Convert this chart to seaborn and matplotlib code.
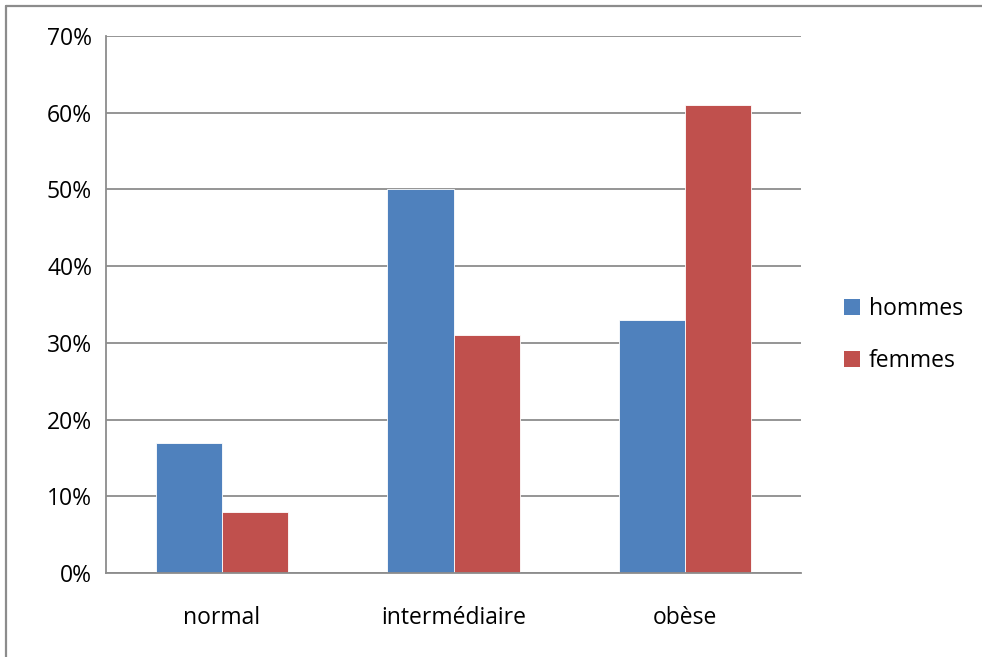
import matplotlib
matplotlib.use("Agg")
import matplotlib.pyplot as plt
from matplotlib.lines import Line2D
from matplotlib.patches import Patch
from matplotlib.ticker import PercentFormatter
import pandas as pd
import seaborn as sns

categories = ["normal", "intermédiaire", "obèse"]
series_names = ["hommes", "femmes"]
hommes = [0.17, 0.50, 0.33]
femmes = [0.08, 0.31, 0.61]
y_ticks = [0.0, 0.1, 0.2, 0.3, 0.4, 0.5, 0.6, 0.7]
colors = {"hommes": "#4F81BD", "femmes": "#C0504D"}

df = pd.DataFrame({
    "catégorie": categories * 2,
    "groupe": [series_names[0]] * 3 + [series_names[1]] * 3,
    "valeur": hommes + femmes,
})

sns.set_theme(style="white")
plt.rcParams["font.family"] = ["Open Sans", "DejaVu Sans"]
plt.rcParams["text.color"] = "black"

W, H = 982, 657
fig = plt.figure(figsize=(W / 100, H / 100), dpi=100)
fig.patch.set_facecolor("white")

x0, x1, y0, y1 = 106, 801, 36, 573
ax = fig.add_axes([x0 / W, 1 - y1 / H, (x1 - x0) / W, (y1 - y0) / H])

sns.barplot(data=df, x="catégorie", y="valeur", hue="groupe",
            order=categories, hue_order=series_names, palette=colors,
            width=0.572, ax=ax, legend=False, saturation=1,
            edgecolor="white", linewidth=0.6)

grid_col = "#8C8C8C"
fs = 16.5
ax.set_ylim(0, 0.7)
ax.set_xlim(-0.5, 2.5)
ax.set_yticks(y_ticks)
ax.yaxis.set_major_formatter(PercentFormatter(1.0, decimals=0))
ax.yaxis.grid(True, color=grid_col, linewidth=1.3)
ax.set_axisbelow(True)
ax.set_xlabel("")
ax.set_ylabel("")
for side in ("top", "right"):
    ax.spines[side].set_visible(False)
for side in ("left", "bottom"):
    ax.spines[side].set_color(grid_col)
    ax.spines[side].set_linewidth(1.3)
ax.tick_params(axis="y", length=0, pad=10, labelsize=fs, colors="black")
ax.tick_params(axis="x", length=0, pad=24, labelsize=fs, colors="black")

handles = [Patch(facecolor=colors[n], edgecolor="none", label=n) for n in series_names]
fig.legend(handles=handles, loc="center left",
           bbox_to_anchor=(823 / W, 1 - 335 / H), frameon=False,
           fontsize=fs, handlelength=0.7, handleheight=0.7,
           handletextpad=0.4, labelspacing=1.2, labelcolor="black")

# outer chart frame: left and top edges
fx = 5.5 / W
fy = 1 - 5.5 / H
fig.add_artist(Line2D([fx, fx], [0, fy], transform=fig.transFigure,
                      color="#8C8C8C", linewidth=1.6))
fig.add_artist(Line2D([fx, 1], [fy, fy], transform=fig.transFigure,
                      color="#8C8C8C", linewidth=1.6))

fig.savefig("out.png", dpi=100)
